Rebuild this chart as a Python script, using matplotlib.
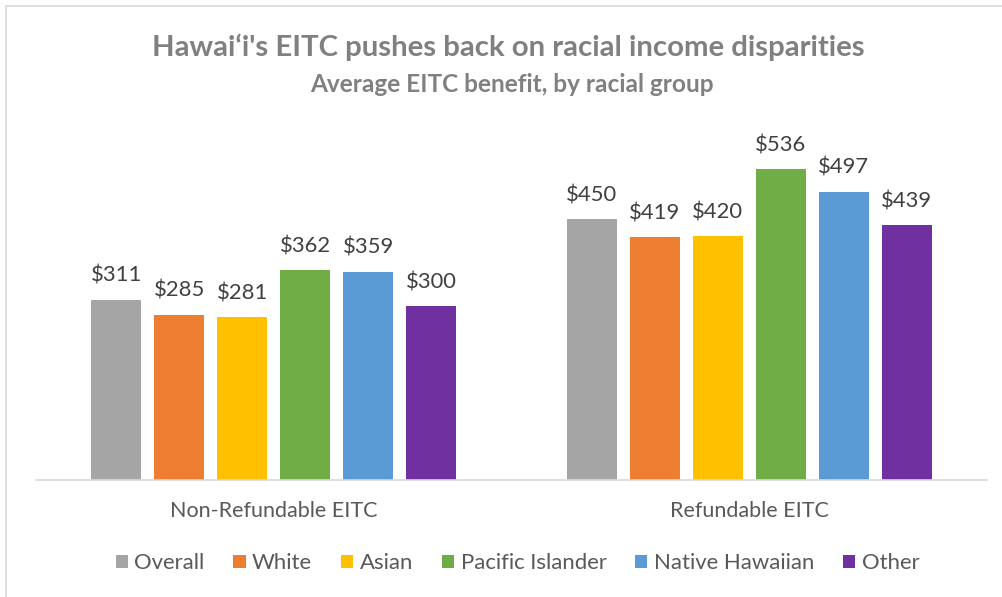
import matplotlib.pyplot as plt
from matplotlib.patches import Rectangle
import numpy as np

plt.rcParams['font.family'] = ['Lato', 'DejaVu Sans']

groups = ['Non-Refundable EITC', 'Refundable EITC']
series = ['Overall', 'White', 'Asian', 'Pacific Islander', 'Native Hawaiian', 'Other']
values = {
    'Overall': [311, 450],
    'White': [285, 419],
    'Asian': [281, 420],
    'Pacific Islander': [362, 536],
    'Native Hawaiian': [359, 497],
    'Other': [300, 439],
}
colors = ['#A5A5A5', '#ED7D31', '#FFC000', '#70AD47', '#5B9BD5', '#7030A0']

fig = plt.figure(figsize=(10.03, 5.97), dpi=100)
ax = fig.add_axes([36 / 1003, 117 / 597, 951 / 1003, 350 / 597])

x = np.arange(len(groups))
step = 63 / 475.5
width = 50 / 475.5
for i, (name, col) in enumerate(zip(series, colors)):
    pos = x + (i - 2.5) * step
    bars = ax.bar(pos, values[name], width, color=col, label=name)
    for b, v in zip(bars, values[name]):
        ax.annotate('${}'.format(v), (b.get_x() + b.get_width() / 2, v),
                    xytext=(0, 10), textcoords='offset points',
                    ha='center', va='bottom', fontsize=15.8, color='#404040')

ax.set_xlim(-0.5, 1.5)
ax.set_ylim(0, 350 / 0.58)
ax.set_yticks([])
ax.set_xticks(x)
ax.set_xticklabels(groups, fontsize=15.5, color='#595959')
ax.tick_params(axis='x', length=0, pad=15)
for s in ['top', 'right', 'left']:
    ax.spines[s].set_visible(False)
ax.spines['bottom'].set_color('#D9D9D9')
ax.spines['bottom'].set_linewidth(1.2)

fig.text(0.507, 1 - 47 / 597, "Hawai\u2018i's EITC pushes back on racial income disparities",
         ha='center', va='center', fontsize=21.2, fontweight='bold', color='#808080')
fig.text(0.510, 1 - 84 / 597, 'Average EITC benefit, by racial group',
         ha='center', va='center', fontsize=17.6, fontweight='bold', color='#808080')

fig.legend(loc='center', bbox_to_anchor=(0.516, 1 - 563 / 597), ncol=6, frameon=False,
           fontsize=15.9, labelcolor='#595959', handlelength=0.55, handleheight=0.55,
           handletextpad=0.3, columnspacing=1.3)

fig.patches.append(Rectangle((6 / 1003, -0.1), 1.2, 1 - 6 / 597 + 0.1,
                             transform=fig.transFigure, fill=False,
                             edgecolor='#D9D9D9', linewidth=1.2))

fig.savefig('out.png', dpi=100)
